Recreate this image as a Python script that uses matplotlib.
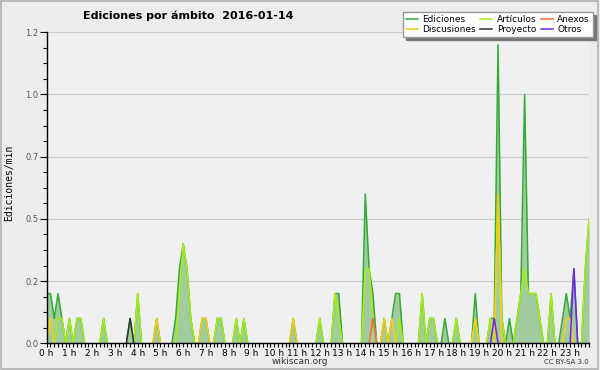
import matplotlib
matplotlib.use('Agg')
import matplotlib.pyplot as plt
from matplotlib.patches import Rectangle
import numpy as np

# valores por tramo de 10 minutos ("HH:MM" -> ediciones/min), tramos ausentes = 0
ediciones = {'00:00': 0.2, '00:10': 0.2, '00:20': 0.1, '00:30': 0.2, '00:40': 0.1,
             '01:00': 0.1, '01:20': 0.1, '01:30': 0.1, '02:30': 0.1, '03:40': 0.1,
             '04:00': 0.2, '04:50': 0.1, '05:40': 0.1, '05:50': 0.3, '06:00': 0.4,
             '06:10': 0.3, '06:20': 0.1, '06:50': 0.1, '07:00': 0.1, '07:30': 0.1,
             '07:40': 0.1, '08:20': 0.1, '08:40': 0.1, '10:50': 0.1, '12:00': 0.1,
             '12:40': 0.2, '12:50': 0.2, '14:00': 0.6, '14:10': 0.3, '14:20': 0.2,
             '14:50': 0.1, '15:10': 0.1, '15:20': 0.2, '15:30': 0.2, '16:30': 0.2,
             '16:50': 0.1, '17:00': 0.1, '17:30': 0.1, '18:00': 0.1, '18:50': 0.2,
             '19:30': 0.1, '19:40': 0.1, '19:50': 1.2, '20:00': 0.1, '20:20': 0.1,
             '20:40': 0.1, '20:50': 0.2, '21:00': 1.0, '21:10': 0.2, '21:20': 0.2,
             '21:30': 0.2, '21:40': 0.1, '22:10': 0.2, '22:40': 0.1, '22:50': 0.2,
             '23:00': 0.1, '23:10': 0.3, '23:40': 0.3, '23:50': 0.5}
articulos = {'00:30': 0.1, '00:40': 0.1, '01:00': 0.1, '01:20': 0.1, '01:30': 0.1,
             '02:30': 0.1, '04:00': 0.2, '05:50': 0.2, '06:00': 0.4, '06:10': 0.3,
             '06:20': 0.1, '07:30': 0.1, '07:40': 0.1, '08:20': 0.1, '08:40': 0.1,
             '12:00': 0.1, '12:40': 0.2, '12:50': 0.1, '14:00': 0.3, '14:10': 0.3,
             '14:20': 0.1, '15:30': 0.1, '16:30': 0.2, '16:50': 0.1, '17:00': 0.1,
             '18:00': 0.1, '18:50': 0.1, '19:30': 0.1, '19:50': 0.6, '20:00': 0.1,
             '20:40': 0.1, '20:50': 0.2, '21:00': 0.3, '21:10': 0.2, '21:20': 0.2,
             '21:30': 0.2, '21:40': 0.1, '22:10': 0.2, '23:40': 0.3, '23:50': 0.5}
anexos = {'14:20': 0.1}
discusiones = {'00:10': 0.1, '04:50': 0.1, '06:50': 0.1, '07:00': 0.1, '10:50': 0.1,
               '14:50': 0.1, '15:10': 0.1, '18:50': 0.1, '19:50': 0.6, '22:50': 0.1,
               '23:00': 0.1}
proyecto = {'03:40': 0.1}
otros = {'19:40': 0.1, '23:10': 0.3}

hour_labels = ['%d h' % h for h in range(24)]
ytick_vals = [0, 0.25, 0.5, 0.75, 1.0, 1.25]
ytick_labels = ['0.0', '0.2', '0.5', '0.7', '1.0', '1.2']

n = 144
x = np.arange(n)


def serie(d):
    arr = np.zeros(n)
    for k, v in d.items():
        h, m = k.split(':')
        arr[int(h) * 6 + int(m) // 10] = v
    return arr


def linea(arr):
    # no dibujar los tramos a cero que quedan sobre el eje
    out = arr.copy()
    for i in range(n):
        izq = arr[i - 1] if i > 0 else 0
        der = arr[i + 1] if i < n - 1 else 0
        if arr[i] == 0 and izq == 0 and der == 0:
            out[i] = np.nan
    return out


fig = plt.figure(figsize=(6, 3.7), dpi=100, facecolor='#ececec')
ax = fig.add_axes([0.0778, 0.0722, 0.904, 0.8405])
ax.set_facecolor('#eff0f2')

ed = serie(ediciones)
ax.fill_between(x, ed, color='#a0cca0', lw=0)
h_ed, = ax.plot(x, linea(ed), color='#33aa33', lw=1.1, label='Ediciones')
h_art, = ax.plot(x, linea(serie(articulos)), color='#aaee11', lw=1.1, label='Artículos')
h_anx, = ax.plot(x, linea(serie(anexos)), color='#ff6633', lw=1.1, label='Anexos')
h_dis, = ax.plot(x, linea(serie(discusiones)), color='#ffcc11', lw=1.1, label='Discusiones')
h_pro, = ax.plot(x, linea(serie(proyecto)), color='#333333', lw=1.1, label='Proyecto')
h_otr, = ax.plot(x, linea(serie(otros)), color='#7722ee', lw=1.1, label='Otros')

ax.set_xlim(0, 143)
ax.set_ylim(0, 1.25)
ax.set_xticks(np.arange(0, 144, 6))
ax.set_xticklabels(hour_labels, fontsize=6.5)
ax.set_xticks(x, minor=True)
ax.set_yticks(ytick_vals)
ax.set_yticklabels(ytick_labels, fontsize=6, color='#555555')
ax.set_yticks(np.arange(0, 1.26, 0.0625), minor=True)
ax.tick_params(axis='x', which='both', length=3, width=0.8, pad=1)
ax.tick_params(axis='y', which='major', length=5, width=0.8, pad=1)
ax.tick_params(axis='y', which='minor', length=3, width=0.8)
ax.yaxis.grid(True, color='#cccccc', lw=0.9)
ax.set_axisbelow(True)
for s in ['top', 'right']:
    ax.spines[s].set_visible(False)
ax.spines['left'].set_linewidth(1)
ax.spines['bottom'].set_linewidth(1)
ax.spines['bottom'].set_zorder(5)

fig.text(0.313, 0.958, 'Ediciones por ámbito  2016-01-14', ha='center', va='center',
         fontsize=8, fontweight='bold')
fig.text(0.016, 0.505, 'Ediciones/min', rotation=90, ha='center', va='center',
         fontsize=7, family='DejaVu Sans Mono')
fig.text(0.5, 0.023, 'wikiscan.org', ha='center', va='center', fontsize=6.5, color='#333333')
fig.text(0.982, 0.021, 'CC BY-SA 3.0', ha='right', va='center', fontsize=5, color='#333333')

fig.legend([h_ed, h_dis, h_art, h_pro, h_anx, h_otr],
           ['Ediciones', 'Discusiones', 'Artículos', 'Proyecto', 'Anexos', 'Otros'],
           ncol=3, loc='upper right', bbox_to_anchor=(0.988, 0.968), fontsize=6.5,
           frameon=True, fancybox=False, edgecolor='#999999', facecolor='white',
           framealpha=1, shadow={'color': '#777777', 'alpha': 1},
           borderpad=0.35, labelspacing=0.1, handlelength=1.3, handletextpad=0.5,
           columnspacing=0.5, borderaxespad=0)

fig.patches.append(Rectangle((0.002, 0.004), 0.994, 0.992, transform=fig.transFigure,
                             fill=False, edgecolor='#b0b0b0', lw=1.2))

fig.savefig('out.png', dpi=100, facecolor=fig.get_facecolor())
